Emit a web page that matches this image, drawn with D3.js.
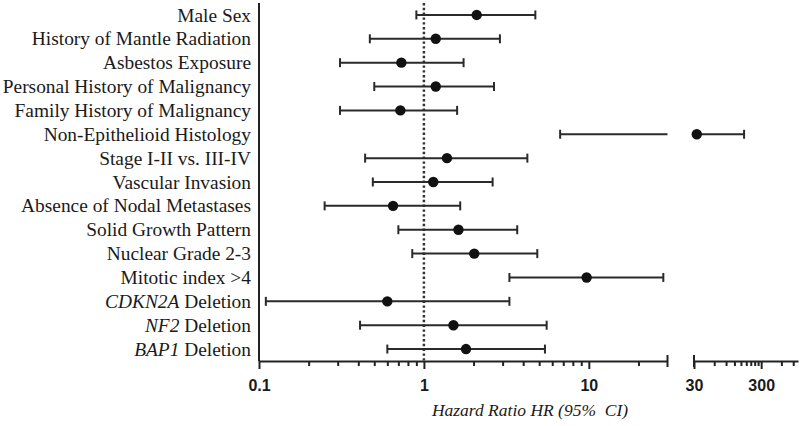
<!DOCTYPE html>
<html lang="en">
<head>
<meta charset="UTF-8" />
<title>Hazard Ratio forest plot</title>
<script src="https://cdnjs.cloudflare.com/ajax/libs/d3/7.8.5/d3.min.js"></script>
<style>
  body { margin: 0; background: #fff; }
  .label { font-family: "Liberation Serif", "Times New Roman", serif; font-size: 19.4px; fill: #1a1a1a; }
  .axis .tick text { font-family: "Liberation Sans", Arial, sans-serif; font-weight: bold; font-size: 16px; fill: #1a1a1a; }
  .axis path, .axis line { stroke: #222; stroke-width: 2px; }
  .title { font-family: "Liberation Serif", "Times New Roman", serif; font-style: italic; font-size: 17.5px; fill: #1a1a1a; white-space: pre; }
</style>
</head>
<body>
<svg width="800" height="426"></svg>
<script>
// factors, top to bottom
const factors = [
  "Male Sex",
  "History of Mantle Radiation",
  "Asbestos Exposure",
  "Personal History of Malignancy",
  "Family History of Malignancy",
  "Non-Epithelioid Histology",
  "Stage I-II vs. III-IV",
  "Vascular Invasion",
  "Absence of Nodal Metastases",
  "Solid Growth Pattern",
  "Nuclear Grade 2-3",
  "Mitotic index >4",
  "CDKN2A Deletion",
  "NF2 Deletion",
  "BAP1 Deletion"
];
// gene names shown in italics
const genes = ["CDKN2A", "NF2", "BAP1"];

// hazard ratios and 95% CI
const hr     = [2.09, 1.18, 0.73, 1.18, 0.72, 33,   1.38, 1.14, 0.65, 1.62, 2.02, 9.7,  0.60, 1.51, 1.80];
const ciLow  = [0.90, 0.47, 0.31, 0.50, 0.31, 6.7,  0.44, 0.49, 0.25, 0.70, 0.85, 3.3,  0.11, 0.41, 0.60];
const ciHigh = [4.74, 2.89, 1.74, 2.66, 1.59, 167,  4.24, 2.61, 1.66, 3.68, 4.87, 28.3, 3.30, 5.55, 5.42];

// axis ticks, two segments with a break at 30
const majorTicks1 = [0.1, 1, 10];
const minorTicks1 = [0.2, 0.3, 0.4, 0.5, 0.6, 0.7, 0.8, 0.9, 2, 3, 4, 5, 6, 7, 8, 9, 20];
const majorTicks2 = [30, 300];
const minorTicks2 = [60, 90, 120, 150, 180, 210, 240, 270, 600, 900];

const svg = d3.select("svg");
const axisY = 361;
const brk = 30;

const x1 = d3.scaleLog().domain([0.1, brk]).range([259, 667.5]);
const x2 = d3.scaleLog().domain([brk, 1060]).range([694, 798]);
const xPos = v => (v <= brk ? x1(v) : x2(v));

const y = d3.scalePoint().domain(factors).range([3, axisY]).padding(0.5);

// y axis line
svg.append("line")
  .attr("x1", 259).attr("x2", 259)
  .attr("y1", 3).attr("y2", axisY)
  .attr("stroke", "#222").attr("stroke-width", 2);

// reference line at HR = 1
svg.append("line")
  .attr("x1", x1(1)).attr("x2", x1(1))
  .attr("y1", 3).attr("y2", axisY)
  .attr("stroke", "#333").attr("stroke-width", 2.5)
  .attr("stroke-dasharray", "2.4,2.4");

// x axis segments
function drawSegment(scale, majors, minors) {
  const g = svg.append("g").attr("class", "axis")
    .attr("transform", `translate(0,${axisY})`);
  g.call(d3.axisBottom(scale).tickValues(majors).tickSize(8).tickSizeOuter(0)
    .tickPadding(11).tickFormat(d => String(d)));
  const gm = svg.append("g").attr("class", "axis")
    .attr("transform", `translate(0,${axisY})`);
  gm.call(d3.axisBottom(scale).tickValues(minors).tickSize(5).tickSizeOuter(0)
    .tickFormat(""));
  gm.select(".domain").remove();
  return g;
}
drawSegment(x1, majorTicks1, minorTicks1);
drawSegment(x2, majorTicks2, minorTicks2);

// end caps at the axis break
[x1(brk), x2(brk)].forEach(cx => {
  svg.append("line")
    .attr("x1", cx).attr("x2", cx)
    .attr("y1", axisY - 6).attr("y2", axisY + 6)
    .attr("stroke", "#222").attr("stroke-width", 2);
});

// factor labels
const labels = svg.append("g");
factors.forEach(f => {
  const t = labels.append("text")
    .attr("class", "label")
    .attr("x", 251)
    .attr("y", y(f))
    .attr("dy", "0.34em")
    .attr("text-anchor", "end");
  const gene = genes.find(g => f.startsWith(g + " "));
  if (gene) {
    t.append("tspan").attr("font-style", "italic").text(gene);
    t.append("tspan").text(f.slice(gene.length));
  } else {
    t.text(f);
  }
});

// error bars and points
const rows = factors.map((f, i) => ({ f, hr: hr[i], lo: ciLow[i], hi: ciHigh[i] }));
const bars = svg.append("g").attr("stroke", "#2a2a2a").attr("stroke-width", 2);
const cap = 4.5;

rows.forEach(d => {
  const cy = y(d.f);
  if (d.lo < brk) {
    bars.append("line")
      .attr("x1", x1(d.lo)).attr("x2", x1(Math.min(d.hi, brk)))
      .attr("y1", cy).attr("y2", cy);
  }
  if (d.hi > brk) {
    bars.append("line")
      .attr("x1", x2(Math.max(d.lo, brk))).attr("x2", x2(d.hi))
      .attr("y1", cy).attr("y2", cy);
  }
  [d.lo, d.hi].forEach(v => {
    bars.append("line")
      .attr("x1", xPos(v)).attr("x2", xPos(v))
      .attr("y1", cy - cap).attr("y2", cy + cap);
  });
});

svg.append("g").selectAll("circle")
  .data(rows)
  .join("circle")
  .attr("cx", d => xPos(d.hr))
  .attr("cy", d => y(d.f))
  .attr("r", 5.2)
  .attr("fill", "#111");

// axis title
svg.append("text")
  .attr("class", "title")
  .attr("x", 530)
  .attr("y", 416)
  .attr("text-anchor", "middle")
  .text("Hazard Ratio HR (95%  CI)");
</script>
</body>
</html>
